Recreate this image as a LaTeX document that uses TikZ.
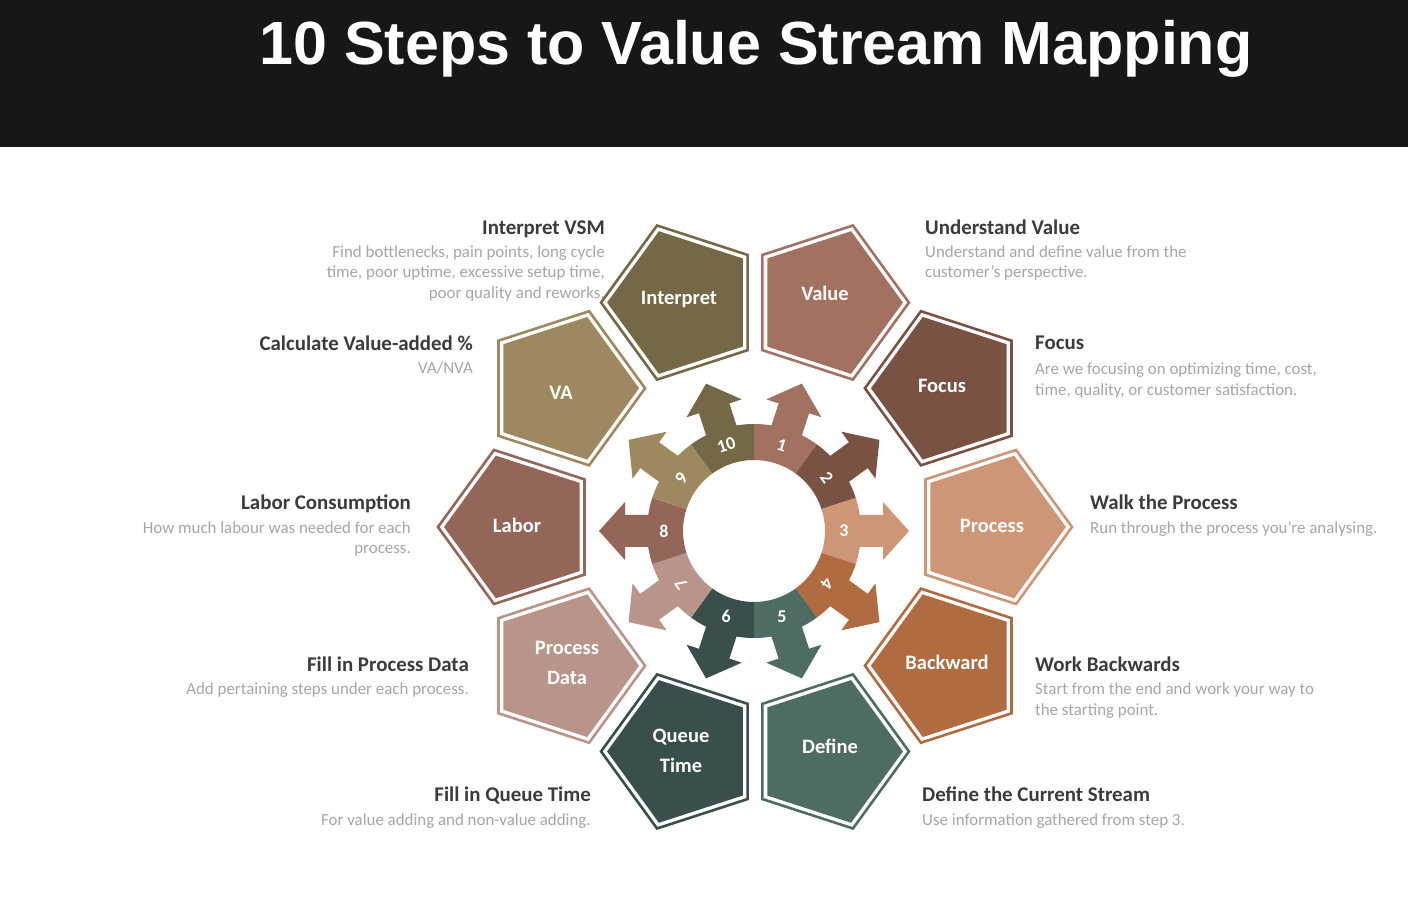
\documentclass[tikz,border=0pt]{standalone}
\usepackage{fontspec}
\setmainfont{Carlito}
\newfontfamily\titlefont{Liberation Sans}
\definecolor{cA}{HTML}{A37161}
\definecolor{cB}{HTML}{7A5244}
\definecolor{cC}{HTML}{CD9676}
\definecolor{cD}{HTML}{B06B40}
\definecolor{cE}{HTML}{4E6B64}
\definecolor{cF}{HTML}{3A4F4B}
\definecolor{cG}{HTML}{B9948A}
\definecolor{cH}{HTML}{94665A}
\definecolor{cI}{HTML}{9E8860}
\definecolor{cJ}{HTML}{756846}
\definecolor{headgray}{HTML}{3B3B3B}
\definecolor{descgray}{HTML}{A6A6A6}
\definecolor{barblack}{HTML}{171717}
\tikzset{
  head/.style={font=\bfseries\fontsize{20.9}{24}\selectfont, text=headgray, inner sep=0pt},
  desc/.style={font=\fontsize{16.9}{20}\selectfont, text=descgray, inner sep=0pt},
  plabel/.style={font=\bfseries\fontsize{20.5}{29.5}\selectfont, text=white, inner sep=0pt, align=center},
  numlabel/.style={font=\bfseries\fontsize{18}{20}\selectfont, text=white, inner sep=0pt},
}
\begin{document}
\begin{tikzpicture}[x=1pt,y=1pt]
\useasboundingbox (0,0) rectangle (1408,908);
\fill[white] (0,0) rectangle (1408,908);
\fill[barblack] (0,761) rectangle (1408,908);
\node[font=\titlefont\bfseries\fontsize{61}{70}\selectfont, text=white, anchor=base, inner sep=0pt] (title) at (756,843) {10 Steps to Value Stream Mapping};

% central ring with arrows
\begin{scope}[shift={(754,377)}]
\foreach \k/\col/\rot in {1/cA/-18, 2/cB/-54, 3/cC/0, 4/cD/-126, 5/cE/0, 6/cF/0, 7/cG/126, 8/cH/0, 9/cI/54, 10/cJ/18}{
  \pgfmathsetmacro\a{72-36*(\k-1)}
  \pgfmathsetmacro\aa{\a-18}
  \pgfmathsetmacro\ab{\a+18}
  \fill[\col] (\aa:71) arc[start angle=\aa, end angle=\ab, radius=71] -- (\ab:107) arc[start angle=\ab, end angle=\aa, radius=107] -- cycle;
  \fill[\col, rotate=\a] (100,-16) -- (129,-16) -- (129,-29) -- (155,0) -- (129,29) -- (129,16) -- (100,16) -- cycle;
  \node[numlabel, rotate=\rot] (n\k) at (\a:90) {\k};
}
\end{scope}

% pentagons
\begin{scope}[shift={(755,381)}]
\foreach \k/\col in {1/cA, 2/cB, 3/cC, 4/cD, 5/cE, 6/cF, 7/cG, 8/cH, 9/cI, 10/cJ}{
  \pgfmathsetmacro\a{72-36*(\k-1)}
  \begin{scope}[shift={(\a:236)}]
    \draw[\col, line width=2.6, line join=miter] (\a:81) -- (\a+72:81) -- (\a+144:81) -- (\a+216:81) -- (\a+288:81) -- cycle;
    \fill[\col] (\a:75) -- (\a+72:75) -- (\a+144:75) -- (\a+216:75) -- (\a+288:75) -- cycle;
  \end{scope}
}
\end{scope}

% pentagon labels
\node[plabel, anchor=base] (p1) at (825,607.5) {Value};
\node[plabel, anchor=base] (p2) at (942,515.5) {Focus};
\node[plabel, anchor=base] (p3) at (992,375.5) {Process};
\node[plabel, anchor=base] (p4) at (947,238.5) {Backward};
\node[plabel, anchor=base] (p5) at (830,154.5) {Define};
\node[plabel] (p6) at (681,157) {Queue\\Time};
\node[plabel] (p7) at (567,245) {Process\\Data};
\node[plabel, anchor=base] (p8) at (517,375.5) {Labor};
\node[plabel, anchor=base] (p9) at (561,508.5) {VA};
\node[plabel, anchor=base] (p10) at (679,603.5) {Interpret};

% right side texts
\node[head, anchor=base west] (h1) at (925,673.5) {Understand Value};
\node[desc, anchor=base west] (d1a) at (925,650.5) {Understand and define value from the};
\node[desc, anchor=base west] (d1b) at (925,630) {customer’s perspective.};

\node[head, anchor=base west] (h2) at (1035,558) {Focus};
\node[desc, anchor=base west] (d2a) at (1035,533) {Are we focusing on optimizing time, cost,};
\node[desc, anchor=base west] (d2b) at (1035,512.5) {time, quality, or customer satisfaction.};

\node[head, anchor=base west] (h3) at (1090,398.5) {Walk the Process};
\node[desc, anchor=base west] (d3a) at (1090,374.5) {Run through the process you’re analysing.};

\node[head, anchor=base west] (h4) at (1035,236.5) {Work Backwards};
\node[desc, anchor=base west] (d4a) at (1035,213.5) {Start from the end and work your way to};
\node[desc, anchor=base west] (d4b) at (1035,192.5) {the starting point.};

\node[head, anchor=base west] (h5) at (922,106.5) {Define the Current Stream};
\node[desc, anchor=base west] (d5a) at (922,82.5) {Use information gathered from step 3.};

% left side texts
\node[head, anchor=base east] (h10) at (605,673.5) {Interpret VSM};
\node[desc, anchor=base east] (d10a) at (605,650.5) {Find bottlenecks, pain points, long cycle};
\node[desc, anchor=base east] (d10b) at (605,630) {time, poor uptime, excessive setup time,};
\node[desc, anchor=base east] (d10c) at (605,609.5) {poor quality and reworks.};

\node[head, anchor=base east] (h9) at (473,557.5) {Calculate Value-added \%};
\node[desc, anchor=base east] (d9a) at (473,534.5) {VA/NVA};

\node[head, anchor=base east] (h8) at (411,398.5) {Labor Consumption};
\node[desc, anchor=base east] (d8a) at (411,374.5) {How much labour was needed for each};
\node[desc, anchor=base east] (d8b) at (411,354) {process.};

\node[head, anchor=base east] (h7) at (469,236.5) {Fill in Process Data};
\node[desc, anchor=base east] (d7a) at (469,213.5) {Add pertaining steps under each process.};

\node[head, anchor=base east] (h6) at (591,106.5) {Fill in Queue Time};
\node[desc, anchor=base east] (d6a) at (591,82.5) {For value adding and non-value adding.};
\end{tikzpicture}
\end{document}
